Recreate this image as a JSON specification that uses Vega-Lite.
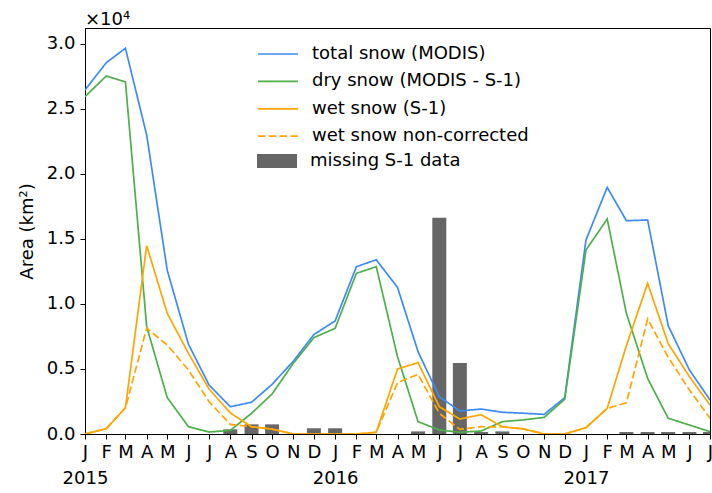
{
  "$schema": "https://vega.github.io/schema/vega-lite/v6.json",
  "width": 625,
  "height": 406,
  "autosize": {"type": "none"},
  "padding": {"left": 85, "top": 28, "right": 2, "bottom": 59},
  "background": "white",
  "config": {
    "font": "DejaVu Sans",
    "view": {"stroke": "black", "strokeWidth": 1},
    "axis": {
      "domainColor": "black", "tickColor": "black", "labelColor": "black", "titleColor": "black",
      "grid": false, "labelFontSize": 18, "titleFontSize": 18, "titleFontWeight": "normal",
      "labelFont": "DejaVu Sans", "titleFont": "DejaVu Sans", "tickSize": 5, "domainWidth": 1, "tickWidth": 1
    },
    "legend": {"labelFont": "DejaVu Sans", "labelFontSize": 18, "labelColor": "black", "labelLimit": 0}
  },
  "title": {"text": "×10⁴", "anchor": "start", "frame": "group", "fontSize": 18, "fontWeight": "normal", "font": "DejaVu Sans", "offset": -1, "color": "black"},
  "datasets": {
    "missing": [
      {"date": "2015-08-01", "area": 360},
      {"date": "2015-09-01", "area": 740},
      {"date": "2015-10-01", "area": 740},
      {"date": "2015-12-01", "area": 440},
      {"date": "2016-01-01", "area": 440},
      {"date": "2016-05-01", "area": 200},
      {"date": "2016-06-01", "area": 16640},
      {"date": "2016-07-01", "area": 5460},
      {"date": "2016-08-01", "area": 150},
      {"date": "2016-09-01", "area": 200},
      {"date": "2017-03-01", "area": 150},
      {"date": "2017-04-01", "area": 150},
      {"date": "2017-05-01", "area": 150},
      {"date": "2017-06-01", "area": 150},
      {"date": "2017-07-01", "area": 150}
    ],
    "lines": [
      {"date": "2015-01-01", "series": "total snow (MODIS)", "area": 26460},
      {"date": "2015-02-01", "series": "total snow (MODIS)", "area": 28560},
      {"date": "2015-03-01", "series": "total snow (MODIS)", "area": 29670},
      {"date": "2015-04-01", "series": "total snow (MODIS)", "area": 23000},
      {"date": "2015-05-01", "series": "total snow (MODIS)", "area": 12600},
      {"date": "2015-06-01", "series": "total snow (MODIS)", "area": 6900},
      {"date": "2015-07-01", "series": "total snow (MODIS)", "area": 3770},
      {"date": "2015-08-01", "series": "total snow (MODIS)", "area": 2100},
      {"date": "2015-09-01", "series": "total snow (MODIS)", "area": 2440},
      {"date": "2015-10-01", "series": "total snow (MODIS)", "area": 3820},
      {"date": "2015-11-01", "series": "total snow (MODIS)", "area": 5600},
      {"date": "2015-12-01", "series": "total snow (MODIS)", "area": 7650},
      {"date": "2016-01-01", "series": "total snow (MODIS)", "area": 8700},
      {"date": "2016-02-01", "series": "total snow (MODIS)", "area": 12870},
      {"date": "2016-03-01", "series": "total snow (MODIS)", "area": 13400},
      {"date": "2016-04-01", "series": "total snow (MODIS)", "area": 11280},
      {"date": "2016-05-01", "series": "total snow (MODIS)", "area": 6330},
      {"date": "2016-06-01", "series": "total snow (MODIS)", "area": 2870},
      {"date": "2016-07-01", "series": "total snow (MODIS)", "area": 1770},
      {"date": "2016-08-01", "series": "total snow (MODIS)", "area": 1920},
      {"date": "2016-09-01", "series": "total snow (MODIS)", "area": 1670},
      {"date": "2016-10-01", "series": "total snow (MODIS)", "area": 1600},
      {"date": "2016-11-01", "series": "total snow (MODIS)", "area": 1510},
      {"date": "2016-12-01", "series": "total snow (MODIS)", "area": 2790},
      {"date": "2017-01-01", "series": "total snow (MODIS)", "area": 14920},
      {"date": "2017-02-01", "series": "total snow (MODIS)", "area": 18970},
      {"date": "2017-03-01", "series": "total snow (MODIS)", "area": 16410},
      {"date": "2017-04-01", "series": "total snow (MODIS)", "area": 16460},
      {"date": "2017-05-01", "series": "total snow (MODIS)", "area": 8330},
      {"date": "2017-06-01", "series": "total snow (MODIS)", "area": 4920},
      {"date": "2017-07-01", "series": "total snow (MODIS)", "area": 2620},
      {"date": "2015-01-01", "series": "dry snow (MODIS - S-1)", "area": 25950},
      {"date": "2015-02-01", "series": "dry snow (MODIS - S-1)", "area": 27540},
      {"date": "2015-03-01", "series": "dry snow (MODIS - S-1)", "area": 27080},
      {"date": "2015-04-01", "series": "dry snow (MODIS - S-1)", "area": 8260},
      {"date": "2015-05-01", "series": "dry snow (MODIS - S-1)", "area": 2800},
      {"date": "2015-06-01", "series": "dry snow (MODIS - S-1)", "area": 560},
      {"date": "2015-07-01", "series": "dry snow (MODIS - S-1)", "area": 150},
      {"date": "2015-08-01", "series": "dry snow (MODIS - S-1)", "area": 280},
      {"date": "2015-09-01", "series": "dry snow (MODIS - S-1)", "area": 1590},
      {"date": "2015-10-01", "series": "dry snow (MODIS - S-1)", "area": 3080},
      {"date": "2015-11-01", "series": "dry snow (MODIS - S-1)", "area": 5440},
      {"date": "2015-12-01", "series": "dry snow (MODIS - S-1)", "area": 7410},
      {"date": "2016-01-01", "series": "dry snow (MODIS - S-1)", "area": 8130},
      {"date": "2016-02-01", "series": "dry snow (MODIS - S-1)", "area": 12360},
      {"date": "2016-03-01", "series": "dry snow (MODIS - S-1)", "area": 12870},
      {"date": "2016-04-01", "series": "dry snow (MODIS - S-1)", "area": 5950},
      {"date": "2016-05-01", "series": "dry snow (MODIS - S-1)", "area": 950},
      {"date": "2016-06-01", "series": "dry snow (MODIS - S-1)", "area": 310},
      {"date": "2016-07-01", "series": "dry snow (MODIS - S-1)", "area": 130},
      {"date": "2016-08-01", "series": "dry snow (MODIS - S-1)", "area": 230},
      {"date": "2016-09-01", "series": "dry snow (MODIS - S-1)", "area": 950},
      {"date": "2016-10-01", "series": "dry snow (MODIS - S-1)", "area": 1080},
      {"date": "2016-11-01", "series": "dry snow (MODIS - S-1)", "area": 1280},
      {"date": "2016-12-01", "series": "dry snow (MODIS - S-1)", "area": 2670},
      {"date": "2017-01-01", "series": "dry snow (MODIS - S-1)", "area": 14150},
      {"date": "2017-02-01", "series": "dry snow (MODIS - S-1)", "area": 16540},
      {"date": "2017-03-01", "series": "dry snow (MODIS - S-1)", "area": 9280},
      {"date": "2017-04-01", "series": "dry snow (MODIS - S-1)", "area": 4280},
      {"date": "2017-05-01", "series": "dry snow (MODIS - S-1)", "area": 1210},
      {"date": "2017-06-01", "series": "dry snow (MODIS - S-1)", "area": 690},
      {"date": "2017-07-01", "series": "dry snow (MODIS - S-1)", "area": 180},
      {"date": "2015-01-01", "series": "wet snow (S-1)", "area": 0},
      {"date": "2015-02-01", "series": "wet snow (S-1)", "area": 410},
      {"date": "2015-03-01", "series": "wet snow (S-1)", "area": 2020},
      {"date": "2015-04-01", "series": "wet snow (S-1)", "area": 14490},
      {"date": "2015-05-01", "series": "wet snow (S-1)", "area": 9280},
      {"date": "2015-06-01", "series": "wet snow (S-1)", "area": 6200},
      {"date": "2015-07-01", "series": "wet snow (S-1)", "area": 3460},
      {"date": "2015-08-01", "series": "wet snow (S-1)", "area": 1620},
      {"date": "2015-09-01", "series": "wet snow (S-1)", "area": 560},
      {"date": "2015-10-01", "series": "wet snow (S-1)", "area": 380},
      {"date": "2015-11-01", "series": "wet snow (S-1)", "area": 0},
      {"date": "2015-12-01", "series": "wet snow (S-1)", "area": 0},
      {"date": "2016-01-01", "series": "wet snow (S-1)", "area": 0},
      {"date": "2016-02-01", "series": "wet snow (S-1)", "area": 0},
      {"date": "2016-03-01", "series": "wet snow (S-1)", "area": 130},
      {"date": "2016-04-01", "series": "wet snow (S-1)", "area": 5000},
      {"date": "2016-05-01", "series": "wet snow (S-1)", "area": 5490},
      {"date": "2016-06-01", "series": "wet snow (S-1)", "area": 2100},
      {"date": "2016-07-01", "series": "wet snow (S-1)", "area": 1150},
      {"date": "2016-08-01", "series": "wet snow (S-1)", "area": 1490},
      {"date": "2016-09-01", "series": "wet snow (S-1)", "area": 560},
      {"date": "2016-10-01", "series": "wet snow (S-1)", "area": 400},
      {"date": "2016-11-01", "series": "wet snow (S-1)", "area": 0},
      {"date": "2016-12-01", "series": "wet snow (S-1)", "area": 0},
      {"date": "2017-01-01", "series": "wet snow (S-1)", "area": 490},
      {"date": "2017-02-01", "series": "wet snow (S-1)", "area": 1970},
      {"date": "2017-03-01", "series": "wet snow (S-1)", "area": 6800},
      {"date": "2017-04-01", "series": "wet snow (S-1)", "area": 11590},
      {"date": "2017-05-01", "series": "wet snow (S-1)", "area": 6950},
      {"date": "2017-06-01", "series": "wet snow (S-1)", "area": 4410},
      {"date": "2017-07-01", "series": "wet snow (S-1)", "area": 2230},
      {"date": "2015-01-01", "series": "wet snow non-corrected", "area": 0},
      {"date": "2015-02-01", "series": "wet snow non-corrected", "area": 410},
      {"date": "2015-03-01", "series": "wet snow non-corrected", "area": 2020},
      {"date": "2015-04-01", "series": "wet snow non-corrected", "area": 8130},
      {"date": "2015-05-01", "series": "wet snow non-corrected", "area": 6850},
      {"date": "2015-06-01", "series": "wet snow non-corrected", "area": 4920},
      {"date": "2015-07-01", "series": "wet snow non-corrected", "area": 2490},
      {"date": "2015-08-01", "series": "wet snow non-corrected", "area": 740},
      {"date": "2015-09-01", "series": "wet snow non-corrected", "area": 560},
      {"date": "2015-10-01", "series": "wet snow non-corrected", "area": 380},
      {"date": "2015-11-01", "series": "wet snow non-corrected", "area": 0},
      {"date": "2015-12-01", "series": "wet snow non-corrected", "area": 0},
      {"date": "2016-01-01", "series": "wet snow non-corrected", "area": 0},
      {"date": "2016-02-01", "series": "wet snow non-corrected", "area": 0},
      {"date": "2016-03-01", "series": "wet snow non-corrected", "area": 130},
      {"date": "2016-04-01", "series": "wet snow non-corrected", "area": 3950},
      {"date": "2016-05-01", "series": "wet snow non-corrected", "area": 4590},
      {"date": "2016-06-01", "series": "wet snow non-corrected", "area": 1590},
      {"date": "2016-07-01", "series": "wet snow non-corrected", "area": 360},
      {"date": "2016-08-01", "series": "wet snow non-corrected", "area": 560},
      {"date": "2016-09-01", "series": "wet snow non-corrected", "area": 540},
      {"date": "2016-10-01", "series": "wet snow non-corrected", "area": 400},
      {"date": "2016-11-01", "series": "wet snow non-corrected", "area": 0},
      {"date": "2016-12-01", "series": "wet snow non-corrected", "area": 0},
      {"date": "2017-01-01", "series": "wet snow non-corrected", "area": 490},
      {"date": "2017-02-01", "series": "wet snow non-corrected", "area": 1970},
      {"date": "2017-03-01", "series": "wet snow non-corrected", "area": 2400},
      {"date": "2017-04-01", "series": "wet snow non-corrected", "area": 8850},
      {"date": "2017-05-01", "series": "wet snow non-corrected", "area": 5900},
      {"date": "2017-06-01", "series": "wet snow non-corrected", "area": 3380},
      {"date": "2017-07-01", "series": "wet snow non-corrected", "area": 1210}
    ]
  },
  "layer": [
    {
      "data": {"name": "missing"},
      "mark": {"type": "bar", "width": 14, "clip": true},
      "encoding": {
        "x": {
          "field": "date", "type": "temporal",
          "scale": {"type": "utc", "domain": [{"year": 2015, "month": 1, "date": 1, "utc": true}, {"year": 2017, "month": 7, "date": 1, "utc": true}], "nice": false, "padding": 0},
          "axis": {
            "title": null,
            "tickCount": {"interval": "month", "step": 1},
            "labelExpr": "utcmonth(datum.value) == 0 ? [substring(utcFormat(datum.value, '%b'), 0, 1), utcFormat(datum.value, '%Y')] : substring(utcFormat(datum.value, '%b'), 0, 1)",
            "labelFlush": false,
            "labelOverlap": false,
            "labelPadding": 4,
            "labelLineHeight": 26,
            "labelBaseline": "top"
          }
        },
        "y": {
          "field": "area", "type": "quantitative",
          "scale": {"domain": [0, 31230], "nice": false, "padding": 0},
          "axis": {
            "title": "Area (km²)",
            "values": [0, 5000, 10000, 15000, 20000, 25000, 30000],
            "labelExpr": "format(datum.value / 10000, '.1f')",
            "labelPadding": 5,
            "titlePadding": 10
          }
        },
        "fill": {
          "datum": "missing S-1 data",
          "scale": {"range": ["#666666"]},
          "legend": {
            "orient": "none", "legendX": 182, "legendY": 123, "title": null,
            "symbolType": "M-2,-0.7L2,-0.7L2,0.7L-2,0.7Z", "symbolSize": 400,
            "symbolStrokeWidth": 0, "labelOffset": 23, "padding": 0
          }
        }
      }
    },
    {
      "data": {"name": "lines"},
      "mark": {"type": "line", "strokeWidth": 1.7, "clip": true},
      "encoding": {
        "x": {"field": "date", "type": "temporal"},
        "y": {"field": "area", "type": "quantitative"},
        "color": {
          "field": "series", "type": "nominal",
          "scale": {
            "domain": ["total snow (MODIS)", "dry snow (MODIS - S-1)", "wet snow (S-1)", "wet snow non-corrected"],
            "range": ["#3d8af7", "#4daf4a", "#ffa500", "#ffa500"]
          },
          "legend": {
            "orient": "none", "legendX": 182, "legendY": 15, "title": null,
            "symbolType": "M-2,0L2,0", "symbolSize": 400, "symbolStrokeWidth": 1.7,
            "labelOffset": 23, "rowPadding": 7.4, "padding": 0
          }
        },
        "strokeDash": {
          "field": "series", "type": "nominal",
          "scale": {
            "domain": ["total snow (MODIS)", "dry snow (MODIS - S-1)", "wet snow (S-1)", "wet snow non-corrected"],
            "range": [[1, 0], [1, 0], [1, 0], [7.5, 3.3]]
          },
          "legend": {
            "orient": "none", "legendX": 182, "legendY": 15, "title": null,
            "symbolType": "M-2,0L2,0", "symbolSize": 400, "symbolStrokeWidth": 1.7,
            "labelOffset": 23, "rowPadding": 7.4, "padding": 0
          }
        }
      }
    }
  ]
}
